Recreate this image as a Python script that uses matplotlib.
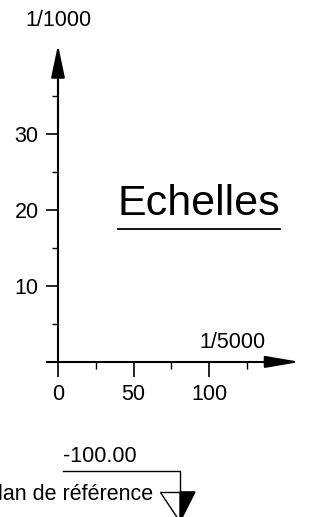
import matplotlib
matplotlib.use("Agg")
import matplotlib.pyplot as plt
from matplotlib.patches import Polygon

plt.rcParams['font.family'] = ['Liberation Sans', 'DejaVu Sans']

# scale values
x_major = [0, 50, 100]
x_minor = [25, 75, 125]
y_major = [0, 10, 20, 30]
y_labels = ['', '10', '20', '30']
y_minor = [5, 15, 25, 35]
x_name = '1/5000'
y_name = '1/1000'
title = 'Echelles'
level = '-100.00'
level_name = 'plan de référence'

fig = plt.figure(figsize=(3.19, 5.17), dpi=100)
ax = fig.add_axes([0, 0, 1, 1])
ax.set_xlim(-38.4, 172.8)
ax.set_ylim(-20.4, 47.6)

for s in ['top', 'right']:
    ax.spines[s].set_visible(False)
ax.spines['left'].set_position(('data', 0))
ax.spines['bottom'].set_position(('data', 0))
ax.spines['left'].set_bounds(0, 38)
ax.spines['bottom'].set_bounds(-7, 150)
ax.spines['left'].set_linewidth(1.5)
ax.spines['bottom'].set_linewidth(1.5)

ax.set_xticks(x_major)
ax.set_xticklabels([str(v) for v in x_major])
ax.set_xticks(x_minor, minor=True)
ax.set_yticks(y_major)
ax.set_yticklabels(y_labels)
ax.set_yticks(y_minor, minor=True)
ax.tick_params(axis='x', which='major', length=11, width=1.2, pad=5, labelsize=15.5)
ax.tick_params(axis='x', which='minor', length=5, width=1.0)
ax.tick_params(axis='y', which='major', length=9, width=1.2, pad=5, labelsize=15.5)
ax.tick_params(axis='y', which='minor', length=4.5, width=1.0)

# arrows
ax.annotate('', xy=(0, 41.7), xytext=(0, 30),
            arrowprops=dict(arrowstyle='-|>,head_length=2.0,head_width=0.42',
                            lw=1.5, color='black', shrinkA=0, shrinkB=0))
ax.annotate('', xy=(160.3, 0), xytext=(140, 0),
            arrowprops=dict(arrowstyle='-|>,head_length=2.1,head_width=0.36',
                            lw=1.5, color='black', shrinkA=0, shrinkB=0))

ax.text(0, 44.9, y_name, ha='center', va='center', fontsize=15.5)
ax.text(115.2, 2.6, x_name, ha='center', va='center', fontsize=15.5)

ax.text(93.4, 20.8, title, ha='center', va='center', fontsize=31)
ax.plot([39.7, 147], [17.5, 17.5], color='black', lw=1.3)

# reference level
ax.text(3.3, -12.5, level, ha='left', va='center', fontsize=15.5)
ax.plot([3.3, 80.8, 80.8], [-14.3, -14.3, -17.1], color='black', lw=1.0)
ax.text(62.9, -17.5, level_name, ha='right', va='center', fontsize=15.5)
ax.add_patch(Polygon([(67.5, -17.1), (80.8, -17.1), (80.8, -21.0)],
                     closed=True, facecolor='white', edgecolor='black', lw=1.0))
ax.add_patch(Polygon([(80.8, -17.1), (90.7, -17.1), (80.8, -21.0)],
                     closed=True, facecolor='black', edgecolor='black', lw=1.0))

fig.savefig('out.png', dpi=100)
